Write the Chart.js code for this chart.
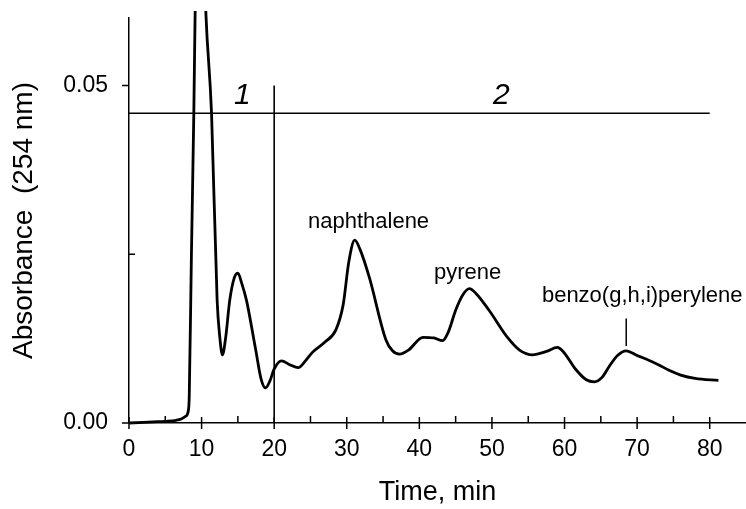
<!DOCTYPE html>
<html>
<head>
<meta charset="utf-8">
<script src="https://cdn.jsdelivr.net/npm/chart.js@4.4.0/dist/chart.umd.min.js"></script>
<style>
  body { margin: 0; background: #fff; }
</style>
</head>
<body>
<canvas id="myChart" width="746" height="509"></canvas>
<script>
// chromatogram trace (time in min, absorbance at 254 nm)
const timeMin = [0, 2, 4, 5.2, 6.5, 7.2, 7.8, 8.15, 8.3, 8.6, 8.93, 9.1, 9.4, 9.8, 10.2, 10.6,
  11.37, 12.14, 12.5, 12.87, 13.3, 13.88, 14.5, 15.0, 15.5, 16.18, 17.46, 18.2, 18.8, 19.4,
  20.0, 21.0, 22.2, 23.3, 24.3, 25.3, 27.0, 28.5, 29.5, 30.3, 31.1, 31.8, 33.1, 35.4, 36.3,
  37.3, 38.5, 40.5, 42.0, 43.2, 44.0, 45.0, 46.0, 46.9, 47.8, 49.6, 52.2, 53.8, 55.6, 57.5,
  59.0, 59.8, 61.5, 63.0, 64.1, 65.2, 66.1, 67.3, 68.5, 70.0, 71.6, 73.0, 74.4, 76.0, 78.0, 81.2];
const absorbance = [0, 0.0001, 0.0002, 0.00025, 0.0004, 0.0006, 0.0010, 0.0017, 0.0040, 0.025, 0.0459, 0.060, 0.078, 0.084, 0.074, 0.0605,
  0.0459, 0.0182, 0.0128, 0.0101, 0.0125, 0.0182, 0.0215, 0.0222, 0.0208, 0.0182, 0.0108, 0.0065, 0.0052, 0.0062,
  0.0080, 0.0092, 0.0086, 0.0082, 0.0092, 0.0105, 0.0120, 0.0138, 0.0175, 0.0240, 0.0271, 0.0258, 0.0216, 0.0123, 0.0107,
  0.0102, 0.0108, 0.0127, 0.0126, 0.0122, 0.0135, 0.0167, 0.0190, 0.0199, 0.0192, 0.0167, 0.0126, 0.0108, 0.0101, 0.0106,
  0.0112, 0.0106, 0.0080, 0.0064, 0.0061, 0.0068, 0.0083, 0.0100, 0.0107, 0.0100, 0.0093, 0.0086, 0.0078, 0.0071, 0.0066, 0.0063];

// region marks: horizontal line over regions 1/2 and the split at 20 min
const regionLineX = [0, 80];
const regionLineY = [0.0459, 0.0459];
const splitLineX = [20, 20];
const splitLineY = [0, 0.05];

const regionNames = ['1', '2'];
const peakNames = ['naphthalene', 'pyrene', 'benzo(g,h,i)perylene'];

const xTicks = [0, 10, 20, 30, 40, 50, 60, 70, 80];
const xMinorTicks = [5, 15, 25, 35, 45, 55, 65, 75];
const yTicks = [0, 0.05];
const yMinorTicks = [0.025];

const FONT = "'Liberation Sans', Arial, sans-serif";
Chart.defaults.font.family = FONT;
Chart.defaults.color = '#000';

const toPoints = (xs, ys) => xs.map((v, i) => ({x: v, y: ys[i]}));

// tick marks: majors cross the x axis / point out of the y axis, minors point inward
const tickMarks = {
  id: 'tickMarks',
  afterDraw(chart) {
    const {ctx, scales: {x, y}} = chart;
    const x0 = x.left, y0 = y.bottom;
    ctx.save();
    ctx.strokeStyle = '#000';
    ctx.lineWidth = 1.5;
    ctx.beginPath();
    xTicks.forEach(v => {
      const px = x.getPixelForValue(v);
      ctx.moveTo(px, y0 - 6); ctx.lineTo(px, y0 + 6);
    });
    xMinorTicks.forEach(v => {
      const px = x.getPixelForValue(v);
      ctx.moveTo(px, y0); ctx.lineTo(px, y0 - 7);
    });
    yTicks.forEach(v => {
      const py = y.getPixelForValue(v);
      ctx.moveTo(x0 - 7, py); ctx.lineTo(x0, py);
    });
    yMinorTicks.forEach(v => {
      const py = y.getPixelForValue(v);
      ctx.moveTo(x0, py); ctx.lineTo(x0 + 6, py);
    });
    ctx.stroke();
    ctx.restore();
  }
};

// region numbers and peak names
const labels = {
  id: 'labels',
  afterDatasetsDraw(chart) {
    const {ctx, scales: {x, y}} = chart;
    ctx.save();
    ctx.fillStyle = '#000';
    ctx.textAlign = 'center';
    ctx.textBaseline = 'alphabetic';

    ctx.font = 'italic 30px ' + FONT;
    const regionAt = [[15.6, 0.0472], [51.3, 0.0472]];
    regionNames.forEach((t, i) => ctx.fillText(t, x.getPixelForValue(regionAt[i][0]), y.getPixelForValue(regionAt[i][1])));

    ctx.font = '22px ' + FONT;
    const peakAt = [[33.0, 0.0289], [46.65, 0.0213], [70.7, 0.0179]];
    peakNames.forEach((t, i) => ctx.fillText(t, x.getPixelForValue(peakAt[i][0]), y.getPixelForValue(peakAt[i][1])));

    // leader line to the benzo(g,h,i)perylene peak
    ctx.strokeStyle = '#000';
    ctx.lineWidth = 1.5;
    ctx.beginPath();
    ctx.moveTo(x.getPixelForValue(68.5), y.getPixelForValue(0.0155));
    ctx.lineTo(x.getPixelForValue(68.5), y.getPixelForValue(0.0114));
    ctx.stroke();
    ctx.restore();
  }
};

const ctx = document.getElementById('myChart').getContext('2d');
const myChart = new Chart(ctx, {
  type: 'scatter',
  data: {
    datasets: [
      {
        data: toPoints(timeMin, absorbance),
        showLine: true,
        borderColor: '#000',
        borderWidth: 2.8,
        pointRadius: 0,
        cubicInterpolationMode: 'monotone',
        clip: {left: 10, top: 7, right: 10, bottom: 10}
      },
      {
        data: toPoints(regionLineX, regionLineY),
        showLine: true,
        borderColor: '#000',
        borderWidth: 1.6,
        pointRadius: 0
      },
      {
        data: toPoints(splitLineX, splitLineY),
        showLine: true,
        borderColor: '#000',
        borderWidth: 1.6,
        pointRadius: 0
      }
    ]
  },
  options: {
    responsive: false,
    animation: false,
    events: [],
    layout: { padding: {left: 0, top: 18, right: 0, bottom: 0} },
    plugins: {
      legend: { display: false },
      tooltip: { enabled: false }
    },
    scales: {
      x: {
        type: 'linear',
        min: 0,
        max: 85,
        grid: { drawOnChartArea: false, drawTicks: false },
        border: { color: '#000', width: 1.5 },
        afterBuildTicks: s => { s.ticks = xTicks.map(v => ({value: v})); },
        afterFit: s => { s.height = 86; s.paddingLeft = 0; s.paddingRight = 0; },
        ticks: { font: {size: 23}, padding: 13, maxRotation: 0, autoSkip: false },
        title: { display: true, text: 'Time, min', font: {size: 27}, padding: {top: 0, bottom: 0} }
      },
      y: {
        min: 0,
        max: 0.06,
        grid: { drawOnChartArea: false, drawTicks: false },
        border: { color: '#000', width: 1.5 },
        afterBuildTicks: s => { s.ticks = yTicks.map(v => ({value: v})); },
        afterFit: s => { s.width = 129; s.paddingTop = 0; s.paddingBottom = 0; },
        ticks: { font: {size: 23}, padding: 21, callback: v => v.toFixed(2) },
        title: { display: true, text: 'Absorbance  (254 nm)', font: {size: 28}, padding: {top: 7, bottom: 0} }
      }
    }
  },
  plugins: [tickMarks, labels]
});
</script>
</body>
</html>
